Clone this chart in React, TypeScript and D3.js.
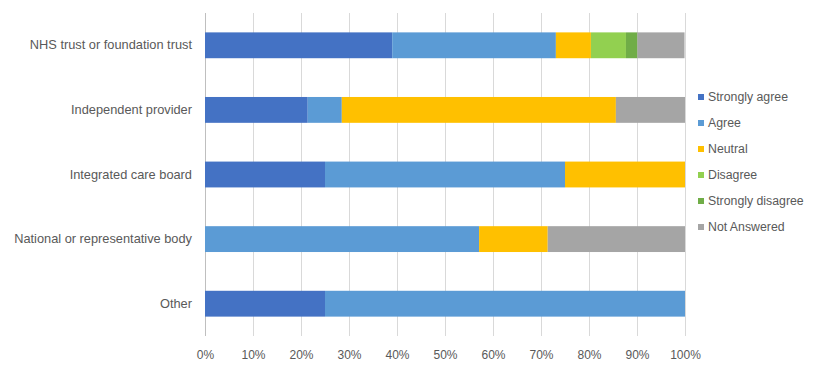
import React, { useRef, useEffect } from 'react';
import * as d3 from 'd3';

const categories = [
  'NHS trust or foundation trust',
  'Independent provider',
  'Integrated care board',
  'National or representative body',
  'Other',
];

const seriesNames = ['Strongly agree', 'Agree', 'Neutral', 'Disagree', 'Strongly disagree', 'Not Answered'];
const seriesColors = ['#4472C4', '#5B9BD5', '#FFC000', '#92D050', '#70AD47', '#A5A5A5'];

// percent of respondents, one value per category
const stronglyAgree = [39.0, 21.4, 25, 0, 25];
const agree = [34.1, 7.1, 50, 57.1, 75];
const neutral = [7.3, 57.1, 25, 14.3, 0];
const disagree = [7.3, 0, 0, 0, 0];
const stronglyDisagree = [2.4, 0, 0, 0, 0];
const notAnswered = [9.8, 14.4, 0, 28.6, 0];

const xTicks = [0, 10, 20, 30, 40, 50, 60, 70, 80, 90, 100];

export default function App() {
  const svgRef = useRef<SVGSVGElement>(null);

  useEffect(() => {
    if (!svgRef.current) return;
    const svg = d3.select(svgRef.current);
    svg.selectAll('*').remove();

    const width = 813;
    const height = 365;
    const margin = { top: 13, right: 128, bottom: 29, left: 205 };
    const innerWidth = width - margin.left - margin.right;
    const innerHeight = height - margin.top - margin.bottom;
    const font = '"Liberation Sans", Arial, sans-serif';
    const textColor = '#595959';

    const values = [stronglyAgree, agree, neutral, disagree, stronglyDisagree, notAnswered];
    const rows = categories.map((c, i) => {
      const r: any = { category: c };
      seriesNames.forEach((s, j) => (r[s] = values[j][i]));
      return r;
    });
    const stacked = d3.stack<any>().keys(seriesNames)(rows);

    const x = d3.scaleLinear().domain([0, 100]).range([0, innerWidth]);
    const y = d3.scaleBand().domain(categories).range([0, innerHeight]).paddingInner(0.6).paddingOuter(0.3);
    const color = d3.scaleOrdinal<string>().domain(seriesNames).range(seriesColors);

    const g = svg.append('g').attr('transform', `translate(${margin.left},${margin.top})`);

    // vertical grid lines
    g.append('g')
      .selectAll('line')
      .data(xTicks)
      .enter()
      .append('line')
      .attr('x1', (d) => x(d) + 0.5)
      .attr('x2', (d) => x(d) + 0.5)
      .attr('y1', 0)
      .attr('y2', innerHeight)
      .attr('stroke', (d) => (d === 0 ? '#bfbfbf' : '#d9d9d9'))
      .attr('stroke-width', 1);

    // bars
    g.selectAll('.layer')
      .data(stacked)
      .enter()
      .append('g')
      .attr('fill', (d) => color(d.key))
      .selectAll('rect')
      .data((d) => d)
      .enter()
      .append('rect')
      .attr('x', (d) => x(d[0]))
      .attr('y', (d) => y(d.data.category)!)
      .attr('width', (d) => Math.max(0, x(d[1]) - x(d[0])))
      .attr('height', y.bandwidth());

    // x axis labels
    g.append('g')
      .attr('transform', `translate(0,${innerHeight})`)
      .call(d3.axisBottom(x).tickValues(xTicks).tickFormat((d) => `${d}%`).tickSize(0).tickPadding(14))
      .call((a) => a.select('.domain').remove())
      .selectAll('text')
      .attr('fill', textColor)
      .attr('font-family', font)
      .attr('font-size', '12px');

    // y axis labels
    g.append('g')
      .call(d3.axisLeft(y).tickSize(0).tickPadding(13))
      .call((a) => a.select('.domain').remove())
      .selectAll('text')
      .attr('fill', textColor)
      .attr('font-family', font)
      .attr('font-size', '12.8px');

    // legend
    const legend = svg.append('g').attr('transform', `translate(698,97)`);
    const item = legend
      .selectAll('g')
      .data(seriesNames)
      .enter()
      .append('g')
      .attr('transform', (_, i) => `translate(0,${i * 26})`);
    item
      .append('rect')
      .attr('x', 0)
      .attr('y', -3)
      .attr('width', 6)
      .attr('height', 6)
      .attr('fill', (d) => color(d));
    item
      .append('text')
      .attr('x', 10)
      .attr('y', 0)
      .attr('dy', '0.35em')
      .attr('fill', textColor)
      .attr('font-family', font)
      .attr('font-size', '12.3px')
      .text((d) => d);
  }, []);

  return (
    <div style={{ position: 'absolute', left: 0, top: 0, width: 813, height: 365, background: '#fff' }}>
      <svg ref={svgRef} width={813} height={365} style={{ display: 'block' }} />
    </div>
  );
}
